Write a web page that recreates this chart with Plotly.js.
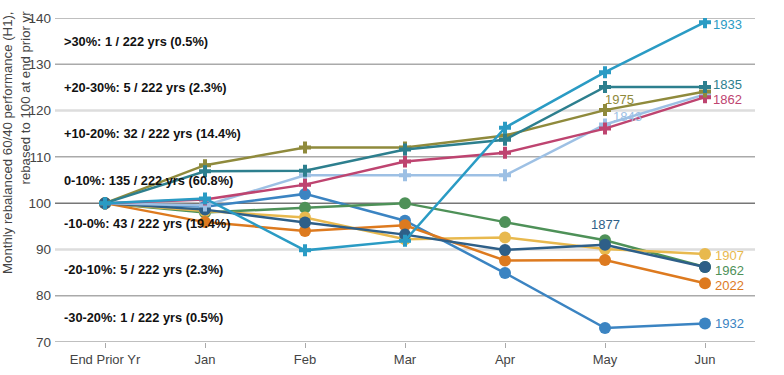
<!DOCTYPE html>
<html><head><meta charset="utf-8">
<script src="https://cdn.plot.ly/plotly-3.0.1.min.js"></script>
<style>html,body{margin:0;padding:0;background:#fff}#c{width:784px;height:375px}</style>
</head><body><div id="c"></div>
<script>
const months = ["End Prior Yr","Jan","Feb","Mar","Apr","May","Jun"];
const yrs_1932 = [100, 99.2, 102, 96.2, 84.9, 73, 74];
const yrs_1962 = [100, 98, 99, 100, 95.9, 92, 86.2];
const yrs_1907 = [100, 98.3, 96.9, 92.2, 92.6, 90.1, 89];
const yrs_2022 = [100, 95.9, 94, 95.2, 87.6, 87.7, 82.7];
const yrs_1877 = [100, 98.6, 95.8, 93.2, 89.9, 91, 86.2];
const yrs_1843 = [100, 99.5, 106, 106, 106, 117, 123.5];
const yrs_1862 = [100, 100.8, 104, 109, 110.9, 116.1, 122.9];
const yrs_1975 = [100, 108.2, 112, 112, 114.6, 120.1, 124.1];
const yrs_1835 = [100, 106.9, 107, 111.6, 113.7, 125.1, 125.1];
const yrs_1933 = [100, 101, 89.8, 91.9, 116.3, 128.3, 139.1];

const bandLabels = [">30%: 1 / 222 yrs (0.5%)","+20-30%: 5 / 222 yrs (2.3%)","+10-20%: 32 / 222 yrs (14.4%)","0-10%: 135 / 222 yrs (60.8%)","-10-0%: 43 / 222 yrs (19.4%)","-20-10%: 5 / 222 yrs (2.3%)","-30-20%: 1 / 222 yrs (0.5%)"];
const bandY = [135, 125, 115, 105, 95.6, 85.6, 75.3];

const series = [
  {name:"1932", y:yrs_1932, color:"#3b84c2", sym:"circle"},
  {name:"1962", y:yrs_1962, color:"#4e9158", sym:"circle"},
  {name:"1907", y:yrs_1907, color:"#e8b94e", sym:"circle"},
  {name:"2022", y:yrs_2022, color:"#dd7a1f", sym:"circle"},
  {name:"1877", y:yrs_1877, color:"#2e5f88", sym:"circle"},
  {name:"1843", y:yrs_1843, color:"#9dc0e4", sym:"cross"},
  {name:"1862", y:yrs_1862, color:"#be4470", sym:"cross"},
  {name:"1975", y:yrs_1975, color:"#8f8a3c", sym:"cross"},
  {name:"1835", y:yrs_1835, color:"#2d7f8e", sym:"cross"},
  {name:"1933", y:yrs_1933, color:"#2a9bc4", sym:"cross"}
];

const xs = months.map((m,i)=>i);
const traces = series.map(s=>({
  x: xs, y: s.y, type:"scatter", mode:"lines+markers", name:s.name,
  line:{color:s.color, width:2.5},
  marker:{symbol:s.sym, size: s.sym==="circle"?12:10, color:s.color},
  hoverinfo:"skip", showlegend:false
}));

const F = "Liberation Sans, Arial, sans-serif";
const anns = [];
bandLabels.forEach((t,i)=>anns.push({xref:"paper", x:0.01, yref:"y", y:bandY[i], text:"<b>"+t+"</b>", showarrow:false, xanchor:"left", yanchor:"middle", font:{family:F, size:12.8, color:"#111"}}));

const last = 6, may = 5;
const labelSpec = {
  "1933":{i:last, dx:6, up:-2, xa:"left"},
  "1835":{i:last, dx:6, up:2, xa:"left"},
  "1862":{i:last, dx:6, up:-2, xa:"left"},
  "1907":{i:last, dx:8, up:-1.5, xa:"left"},
  "1962":{i:last, dx:8, up:-3.5, xa:"left"},
  "2022":{i:last, dx:8, up:-2.5, xa:"left"},
  "1932":{i:last, dx:8, up:0, xa:"left"},
  "1975":{i:may, dx:-2, up:11, xa:"left"},
  "1843":{i:may, dx:6, up:8, xa:"left"},
  "1877":{i:may, dx:0, up:20, xa:"center"}
};
series.forEach(s=>{
  const sp = labelSpec[s.name];
  anns.push({x:xs[sp.i], y:s.y[sp.i], xref:"x", yref:"y", text:s.name, showarrow:false,
    xanchor:sp.xa, yanchor:"middle", xshift:sp.dx, yshift:sp.up,
    font:{family:F, size:13, color:s.color}});
});

// y-axis title, right-aligned lines (ending at top)
anns.push({xref:"paper", yref:"paper", x:-0.0555, y:1.027, xanchor:"center", yanchor:"top",
  textangle:-90, align:"right", showarrow:false,
  text:"Monthly rebalanced 60/40 performance (H1),<br>rebased to 100 at end prior yr",
  font:{family:F, size:13.2, color:"#444"}});

const shapes = [];
const gl = [[70,"#aaa",1.5],[80,"#aaa",1.5],[90,"#ddd",2.5],[100,"#777",1.5],[110,"#aaa",1.5],[120,"#ddd",2.5],[130,"#aaa",1.5],[140,"#aaa",1.5]];
gl.forEach(g=>shapes.push({type:"line", xref:"paper", x0:0, x1:1, yref:"y", y0:g[0], y1:g[0], line:{color:g[1], width:g[2]}, layer:"below"}));

const layout = {
  width:784, height:375,
  margin:{l:55, r:29, t:18, b:33},
  paper_bgcolor:"#fff", plot_bgcolor:"#fff",
  font:{family:F, color:"#444"},
  xaxis:{range:[-0.5,6.5], tickvals:xs, ticktext:months, showgrid:false, zeroline:false,
    ticks:"outside", ticklen:5, tickcolor:"#aaa", tickfont:{family:F, size:13, color:"#444"}, showline:false},
  yaxis:{range:[70,140], tickvals:[70,80,90,100,110,120,130,140], showgrid:false, zeroline:false,
    tickfont:{family:F, size:13.5, color:"#444"}, ticks:"", ticklabelstandoff:3},
  shapes:shapes, annotations:anns
};
Plotly.newPlot("c", traces, layout, {staticPlot:true});
</script></body></html>
